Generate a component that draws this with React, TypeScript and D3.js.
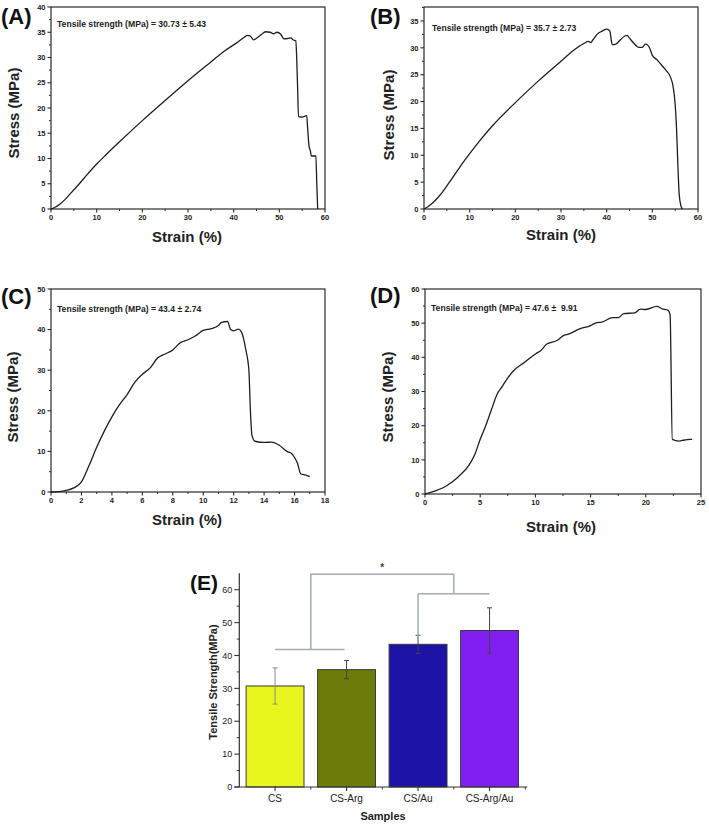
import React from "react";
import * as d3 from "d3";

// ---------- DATA ----------
const curveA: [number, number][] = [
  [0, 0], [1, 0.4], [2, 1.0], [3, 1.8], [4, 2.8], [5, 3.8], [6, 4.8], [8, 6.9], [10, 8.9], [12, 10.7],
  [15, 13.3], [20, 17.5], [25, 21.5], [30, 25.4], [35, 29.1], [38, 31.3], [40, 32.5], [41, 33.1],
  [42, 33.8], [43, 34.4], [43.7, 34.2], [44.3, 33.5], [45, 33.8], [46, 34.5], [47, 35.1], [48, 35.0],
  [48.7, 34.7], [49.5, 35.0], [50.3, 34.6], [51, 33.7], [52, 33.8], [52.5, 33.9], [53, 33.5],
  [53.6, 33.3], [53.8, 30], [54, 24], [54.2, 18.3], [55, 18.2], [56, 18.5], [56.2, 16], [56.5, 12.5],
  [56.8, 11.5], [57, 10.5], [58, 10.5], [58.2, 5], [58.4, 0],
];
const curveB: [number, number][] = [
  [0, 0], [1, 0.5], [2, 1.2], [3, 2.1], [4, 3.1], [5, 4.3], [6, 5.5], [8, 8.0], [10, 10.3], [12, 12.5],
  [15, 15.5], [20, 19.8], [25, 23.8], [30, 27.5], [33, 29.7], [35, 30.8], [36, 31.2], [36.5, 31.0],
  [37, 31.5], [38, 32.6], [39, 33.1], [40, 33.5], [40.7, 33.1], [41, 31.5], [41.2, 30.6], [42, 30.7],
  [43, 31.5], [44, 32.2], [44.5, 32.3], [45, 31.8], [46, 30.8], [47, 30.1], [47.8, 30.1], [48.5, 30.7],
  [49, 30.5], [49.5, 29.8], [50, 28.6], [51, 27.8], [52, 26.8], [53, 25.8], [54, 24.5], [54.5, 23],
  [55, 19.5], [55.3, 15], [55.6, 8], [55.9, 2.5], [56.3, 0.5], [56.6, 0],
];
const curveC: [number, number][] = [
  [0, 0], [0.5, 0.1], [1, 0.4], [1.5, 1.0], [2, 2.5], [2.5, 6.5], [3, 11], [3.5, 15], [4, 18.5],
  [4.5, 21.5], [5, 24], [5.5, 27], [6, 29], [6.5, 30.5], [7, 33], [7.5, 34], [8, 35], [8.5, 36.8],
  [9, 37.5], [9.5, 38.5], [10, 39.8], [10.5, 40.2], [11, 41], [11.2, 41.8], [11.6, 42], [11.8, 40],
  [12, 39.7], [12.3, 40.1], [12.5, 39.5], [12.8, 35], [13, 30], [13.1, 20], [13.2, 14], [13.4, 12.5],
  [14, 12.2], [14.5, 12.3], [15, 11.5], [15.5, 10], [15.8, 9.5], [16, 8.5], [16.2, 7], [16.4, 4.5],
  [16.7, 4.2], [17, 3.8],
];
const curveD: [number, number][] = [
  [0, 0], [1, 1], [2, 2.5], [3, 5], [4, 8.5], [4.5, 11.5], [5, 16], [5.5, 20], [6, 24.5], [6.5, 29],
  [7, 31.5], [7.5, 34], [8, 36], [9, 38.5], [10, 41], [10.5, 42], [11, 43.8], [12, 45], [12.5, 46.3],
  [13, 46.8], [14, 48.3], [15, 49.3], [15.5, 50.1], [16, 50.3], [17, 51.6], [17.5, 51.6], [18, 52.8],
  [19, 53], [19.5, 54.1], [20, 54], [21, 54.9], [21.5, 54.2], [22, 53.8], [22.2, 52.5], [22.4, 16],
  [23, 15.5], [23.5, 15.8], [24, 16], [24.2, 16],
];

const samples = ["CS", "CS-Arg", "CS/Au", "CS-Arg/Au"];
const meanStrength = [30.73, 35.7, 43.4, 47.6];
const errStrength = [5.5, 2.75, 2.75, 6.9];
const barColors = ["#e9f61e", "#6c7c0a", "#1c12a6", "#7f1ff2"];
const eTicks = [0, 10, 20, 30, 40, 50, 60];

const FONT = "'Liberation Sans', Arial, Helvetica, sans-serif";

type PanelProps = {
  data: [number, number][];
  left: number; right: number; top: number; bottom: number;
  xMax: number; yMax: number; xStep: number; yStep: number;
  label: string; labelX: number; labelY: number;
  note: string; noteX: number; noteY: number;
  xLabelY: number; xLabelX: number; yLabelX: number; yLabelY: number;
  yTickMax: number;
};

function Panel(p: PanelProps) {
  const x = d3.scaleLinear().domain([0, p.xMax]).range([p.left, p.right]);
  const y = d3.scaleLinear().domain([0, p.yMax]).range([p.bottom, p.top]);
  const line = d3.line<[number, number]>().x((d) => x(d[0])).y((d) => y(d[1])).curve(d3.curveMonotoneX);
  const xMajor = d3.range(0, p.xMax + 1e-9, p.xStep);
  const xMinor = d3.range(p.xStep / 2, p.xMax, p.xStep);
  const yMajor = d3.range(0, p.yTickMax + 1e-9, p.yStep);
  const yMinor = d3.range(p.yStep / 2, p.yMax, p.yStep);
  const c = "#2a2a2a";
  return (
    <g fontFamily={FONT}>
      <rect x={p.left} y={p.top} width={p.right - p.left} height={p.bottom - p.top} fill="none" stroke={c} strokeWidth={1.2} />
      {xMajor.map((t) => (
        <g key={"xm" + t}>
          <line x1={x(t)} x2={x(t)} y1={p.bottom} y2={p.bottom + 3.5} stroke={c} strokeWidth={1.1} />
          <text x={x(t)} y={p.bottom + 11} textAnchor="middle" fontSize={7.5} fontWeight="bold" fill="#222">{t}</text>
        </g>
      ))}
      {xMinor.map((t) => (
        <line key={"xn" + t} x1={x(t)} x2={x(t)} y1={p.bottom} y2={p.bottom + 2} stroke={c} strokeWidth={1} />
      ))}
      {yMajor.map((t) => (
        <g key={"ym" + t}>
          <line x1={p.left - 3.5} x2={p.left} y1={y(t)} y2={y(t)} stroke={c} strokeWidth={1.1} />
          <text x={p.left - 5.5} y={y(t) + 2.7} textAnchor="end" fontSize={7.5} fontWeight="bold" fill="#222">{t}</text>
        </g>
      ))}
      {yMinor.map((t) => (
        <line key={"yn" + t} x1={p.left - 2} x2={p.left} y1={y(t)} y2={y(t)} stroke={c} strokeWidth={1} />
      ))}
      <path d={line(p.data) || ""} fill="none" stroke="#1e1e1e" strokeWidth={1.3} strokeLinejoin="round" />
      <text x={p.noteX} y={p.noteY} fontSize={8.6} fontWeight="bold" fill="#222" style={{ whiteSpace: "pre" }}>{p.note}</text>
      <text x={p.labelX} y={p.labelY} fontSize={22} fontWeight="bold" fill="#111">{p.label}</text>
      <text x={p.xLabelX} y={p.xLabelY} textAnchor="middle" fontSize={15} fontWeight="bold" fill="#222">Strain (%)</text>
      <text transform={`translate(${p.yLabelX},${p.yLabelY}) rotate(-90)`} textAnchor="middle" fontSize={15} fontWeight="bold" fill="#222">Stress (MPa)</text>
    </g>
  );
}

function PanelE() {
  const left = 239.3, right = 525.3, bottom = 787;
  const y = d3.scaleLinear().domain([0, 65]).range([bottom, 573.3]);
  const x = d3.scaleBand<string>().domain(samples).range([left, right]).paddingInner(0.19).paddingOuter(0.095);
  const cx = (s: string) => (x(s) as number) + x.bandwidth() / 2;
  const c = "#333";
  const gray = "#a3abb2";
  const m1 = (cx(samples[0]) + cx(samples[1])) / 2;
  const m2 = (cx(samples[2]) + cx(samples[3])) / 2;
  const step = x.step();
  return (
    <g fontFamily={FONT}>
      {samples.map((s, i) => (
        <rect key={s} x={x(s)} y={y(meanStrength[i])} width={x.bandwidth()} height={bottom - y(meanStrength[i])} fill={barColors[i]} stroke="#3a3a3a" strokeWidth={1} />
      ))}
      {samples.map((s, i) => {
        const hi = y(meanStrength[i] + errStrength[i]);
        const lo = y(meanStrength[i] - errStrength[i]);
        const col = i === 0 ? "#8a8a8a" : "#444";
        return (
          <g key={"e" + s} stroke={col} strokeWidth={1}>
            <line x1={cx(s)} x2={cx(s)} y1={hi} y2={lo} />
            <line x1={cx(s) - 2.5} x2={cx(s) + 2.5} y1={hi} y2={hi} />
            <line x1={cx(s) - 2.5} x2={cx(s) + 2.5} y1={lo} y2={lo} />
          </g>
        );
      })}
      {/* significance brackets */}
      <g stroke={gray} strokeWidth={1.5} fill="none">
        <line x1={cx(samples[0])} x2={cx(samples[1]) - 2} y1={y(41.8)} y2={y(41.8)} />
        <polyline points={`${m1},${y(41.8)} ${m1},${y(64.7)} ${m2},${y(64.7)} ${m2},${y(58.8)}`} />
        <line x1={cx(samples[2])} x2={cx(samples[3])} y1={y(58.8)} y2={y(58.8)} />
        <line x1={cx(samples[2])} x2={cx(samples[2])} y1={y(58.8)} y2={y(44.6)} />
      </g>
      <text x={(m1 + m2) / 2} y={y(65.6)} textAnchor="middle" fontSize={10} fontWeight="bold" fill="#444">*</text>
      {/* axes */}
      <line x1={left} x2={left} y1={573.3} y2={bottom} stroke={c} strokeWidth={1.2} />
      <line x1={left - 5} x2={right + 2} y1={bottom} y2={bottom} stroke={c} strokeWidth={1.2} />
      {eTicks.map((t) => (
        <g key={"et" + t}>
          <line x1={left - 5} x2={left} y1={y(t)} y2={y(t)} stroke={c} strokeWidth={1.1} />
          <text x={left - 7} y={y(t) + 3.2} textAnchor="end" fontSize={9} fill="#222">{t}</text>
        </g>
      ))}
      {eTicks.slice(0, -1).map((t) => (
        <line key={"en" + t} x1={left - 2.5} x2={left} y1={y(t + 5)} y2={y(t + 5)} stroke={c} strokeWidth={1} />
      ))}
      {samples.map((s) => (
        <g key={"xl" + s}>
          <line x1={cx(s)} x2={cx(s)} y1={bottom} y2={bottom + 4} stroke={c} strokeWidth={1.1} />
          <text x={cx(s)} y={801.5} textAnchor="middle" fontSize={10} fill="#222">{s}</text>
        </g>
      ))}
      {d3.range(1, samples.length + 1).map((k) => (
        <line key={"xb" + k} x1={left + k * step} x2={left + k * step} y1={bottom} y2={bottom + 2.5} stroke={c} strokeWidth={1} />
      ))}
      <text x={383} y={820} textAnchor="middle" fontSize={11} fontWeight="bold" fill="#222">Samples</text>
      <text transform={`translate(217,682) rotate(-90)`} textAnchor="middle" fontSize={11} fontWeight="bold" fill="#222">Tensile Strength(MPa)</text>
      <text x={190} y={590} fontSize={21} fontWeight="bold" fill="#111">(E)</text>
    </g>
  );
}

export default function App() {
  return (
    <svg width={709} height={826} style={{ position: "absolute", left: 0, top: 0, background: "#fff" }}>
      <rect width={709} height={826} fill="#fff" />
      <Panel data={curveA} left={51} right={325} top={7} bottom={209} xMax={60} yMax={40} xStep={10} yStep={5} yTickMax={40}
        label="(A)" labelX={1} labelY={23.5} note="Tensile strength (MPa) = 30.73 ± 5.43" noteX={57} noteY={27}
        xLabelX={187} xLabelY={242} yLabelX={19} yLabelY={113} />
      <Panel data={curveB} left={424} right={698} top={7} bottom={209} xMax={60} yMax={37.6} xStep={10} yStep={5} yTickMax={35}
        label="(B)" labelX={370} labelY={23.5} note="Tensile strength (MPa) = 35.7 ± 2.73" noteX={432} noteY={31}
        xLabelX={561} xLabelY={240} yLabelX={394} yLabelY={115} />
      <Panel data={curveC} left={51} right={325} top={289} bottom={492} xMax={18} yMax={50} xStep={2} yStep={10} yTickMax={50}
        label="(C)" labelX={1} labelY={304} note="Tensile strength (MPa) = 43.4 ± 2.74" noteX={57} noteY={311.5}
        xLabelX={187} xLabelY={525} yLabelX={18} yLabelY={397} />
      <Panel data={curveD} left={425} right={701} top={289} bottom={494} xMax={25} yMax={60} xStep={5} yStep={10} yTickMax={60}
        label="(D)" labelX={370} labelY={303} note="Tensile strength (MPa) = 47.6 ±  9.91" noteX={431} noteY={311}
        xLabelX={561} xLabelY={532} yLabelX={393} yLabelY={397} />
      <PanelE />
    </svg>
  );
}
